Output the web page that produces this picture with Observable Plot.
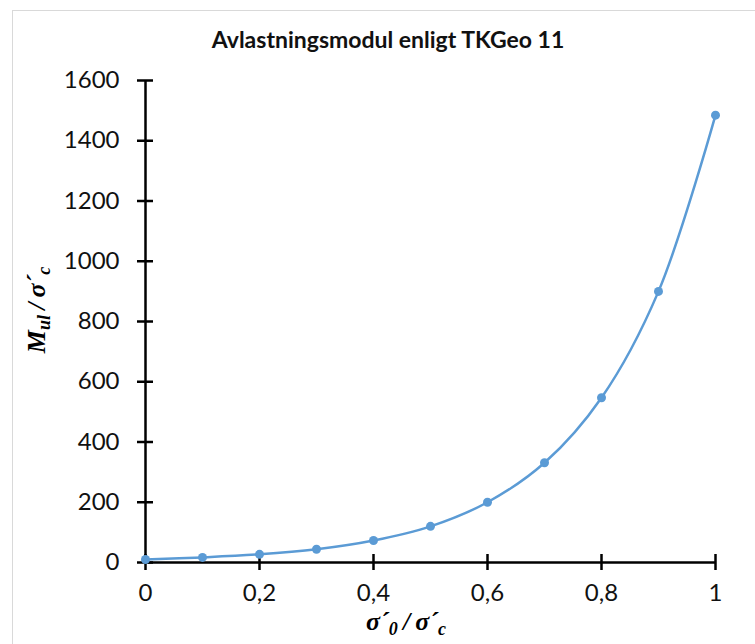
<!DOCTYPE html>
<html>
<head>
<meta charset="utf-8">
<script src="https://cdn.jsdelivr.net/npm/d3@7"></script>
<script src="https://cdn.jsdelivr.net/npm/@observablehq/plot@0.6"></script>
<style>
  html, body { margin: 0; padding: 0; background: #fff; }
  #wrap { position: relative; width: 755px; height: 644px; overflow: hidden; }
  #frame { position: absolute; left: 12px; top: 10px; width: 760px; height: 660px;
           border: 1.5px solid #d9d9d9; box-sizing: border-box; }
  #title { position: absolute; left: 0; width: 776px; top: 25px; text-align: center;
           font-family: Lato, sans-serif; font-weight: bold; font-size: 23px; line-height: 28px; color: #111; }
  #chart { position: absolute; left: 0; top: 0; }
</style>
</head>
<body>
<div id="wrap">
  <div id="frame"></div>
  <div id="chart"></div>
  <div id="title">Avlastningsmodul enligt TKGeo 11</div>
</div>
<script>
// Unloading modulus ratio vs. stress ratio
const ratio = [0, 0.1, 0.2, 0.3, 0.4, 0.5, 0.6, 0.7, 0.8, 0.9, 1.0];
const modulus = [10, 17, 27, 44, 73, 120, 200, 331, 547, 900, 1485];
const xTicks = [0, 0.2, 0.4, 0.6, 0.8, 1];
const yTicks = [0, 200, 400, 600, 800, 1000, 1200, 1400, 1600];

const data = ratio.map((r, i) => ({r, m: modulus[i]}));
const comma = d => String(d).replace(".", ",");
const blue = "#5b9bd5";

const plot = Plot.plot({
  width: 755,
  height: 644,
  marginLeft: 145,
  marginRight: 40,
  marginTop: 80,
  marginBottom: 82,
  style: {fontFamily: "Lato, sans-serif", fontSize: "24px", color: "#111", background: "transparent"},
  x: {domain: [0, 1]},
  y: {domain: [0, 1600]},
  marks: [
    Plot.line(data, {x: "r", y: "m", stroke: blue, strokeWidth: 2.5, curve: "catmull-rom"}),
    Plot.ruleX([0], {stroke: "#000", strokeWidth: 2.5}),
    Plot.ruleY([0], {stroke: "#000", strokeWidth: 2.5}),
    // tick marks crossing the axis lines
    Plot.axisY({ticks: yTicks, tickSize: 16, dx: 8, tickFormat: () => "", strokeWidth: 2.5, stroke: "#000", label: null}),
    Plot.axisY({ticks: yTicks, tickSize: 0, tickPadding: 26, tickFormat: comma, label: null}),
    Plot.axisX({ticks: xTicks, tickSize: 16, dy: -8, tickFormat: () => "", strokeWidth: 2.5, stroke: "#000", label: null}),
    Plot.axisX({ticks: xTicks, tickSize: 0, tickPadding: 21, tickFormat: comma, label: null}),
    Plot.dot(data, {x: "r", y: "m", fill: blue, r: 4.5})
  ]
});
document.getElementById("chart").appendChild(plot);

// Axis titles with subscripts, in serif bold italic
const svg = d3.select(plot);
const labelFont = "'Liberation Serif', 'DejaVu Serif', serif";

function axisTitle(sel, parts) {
  sel.attr("text-anchor", "middle")
    .attr("font-family", labelFont).attr("font-weight", "bold").attr("font-style", "italic")
    .attr("font-size", 26).attr("fill", "#000");
  let shifted = false;
  for (const [txt, sub] of parts) {
    const t = sel.append("tspan").text(txt);
    if (sub && !shifted) { t.attr("font-size", 18).attr("dy", 5); shifted = true; }
    else if (!sub && shifted) { t.attr("dy", -5); shifted = false; }
    else if (sub) t.attr("font-size", 18);
  }
}

axisTitle(svg.append("text").attr("x", 406).attr("y", 630),
  [["σ´", false], ["0", true], ["\u2009/\u2009σ´", false], ["c", true]]);

axisTitle(svg.append("text").attr("transform", "translate(45,310) rotate(-90)"),
  [["M", false], ["ul", true], ["\u2009/\u2009σ´", false], ["c", true]]);
</script>
</body>
</html>
